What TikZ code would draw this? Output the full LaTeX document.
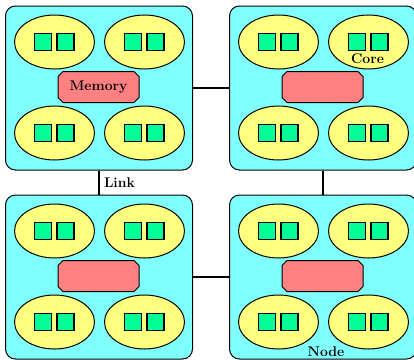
\documentclass[tikz,border=0pt]{standalone}
\usepackage{fontspec}
\usetikzlibrary{positioning,calc,shapes.geometric}

\definecolor{nodecyan}{RGB}{128,255,255}
\definecolor{coreyellow}{RGB}{255,255,128}
\definecolor{cachegreen}{RGB}{0,255,150}
\definecolor{memred}{RGB}{255,128,128}

\tikzset{
  nodebox/.style={draw, line width=1pt, rounded corners=10pt, fill=nodecyan,
                  minimum width=187pt, minimum height=164pt, inner sep=0pt},
  corenode/.style={ellipse, draw, line width=1pt, fill=coreyellow,
                   minimum width=80pt, minimum height=54pt, inner sep=0pt},
  cachebox/.style={draw, line width=1.3pt, fill=cachegreen,
                   minimum size=17pt, inner sep=0pt},
  memshape/.style={draw, line width=1pt, fill=memred},
  link/.style={line width=2pt},
  lbl/.style={font=\bfseries\fontsize{14}{16}\selectfont, inner sep=0pt}
}

\begin{document}
\begin{tikzpicture}[x=1pt,y=-1pt]
\useasboundingbox (0,0) rectangle (414,359);

\node[nodebox] (n1) at (99,88) {};
\node[nodebox] (n2) [right=36pt of n1] {};
\node[nodebox] (n3) [below=24pt of n1] {};
\node[nodebox] (n4) [below=24pt of n2] {};

% memory and four cores in every node
\foreach \b/\txt in {n1/Memory,n2/,n3/,n4/}{
  \coordinate (\b-m) at ($(\b)+(-0.5,-1)$);
  \draw[memshape] ($(\b-m)+(-35.5,-15.5)$) -- ($(\b-m)+(35.5,-15.5)$)
    -- ($(\b-m)+(40.5,-10.5)$) -- ($(\b-m)+(40.5,10.5)$) -- ($(\b-m)+(35.5,15.5)$)
    -- ($(\b-m)+(-35.5,15.5)$) -- ($(\b-m)+(-40.5,10.5)$) -- ($(\b-m)+(-40.5,-10.5)$) -- cycle;
  \node[lbl] (\b-mem) at (\b-m) {\txt};
  \node[corenode] (\b-c1) at ($(\b)+(-44.5,-46)$) {};
  \node[corenode] (\b-c2) at ($(\b)+(45.5,-46)$) {};
  \node[corenode] (\b-c3) at ($(\b)+(-44.5,45)$) {};
  \node[corenode] (\b-c4) at ($(\b)+(45.5,45)$) {};
  \foreach \c in {c1,c2,c3,c4}{
    \node[cachebox] (\b-\c-l1) at ($(\b-\c)+(-11.5,0)$) {};
    \node[cachebox] (\b-\c-l2) at ($(\b-\c)+(11,0)$) {};
  }
}

\node[lbl] (corelbl) at ($(n2-c2)+(-1,17)$) {Core};
\node[lbl] (nodelbl) at ($(n4.south)+(3,-8)$) {Node};

\draw[link] (n1.east) -- (n2.west);
\draw[link] (n3.east) -- (n4.west);
\draw[link] (n1.south) -- (n3.north) node[midway, right=4pt, lbl] (linklbl) {Link};
\draw[link] (n2.south) -- (n4.north);

\end{tikzpicture}
\end{document}
